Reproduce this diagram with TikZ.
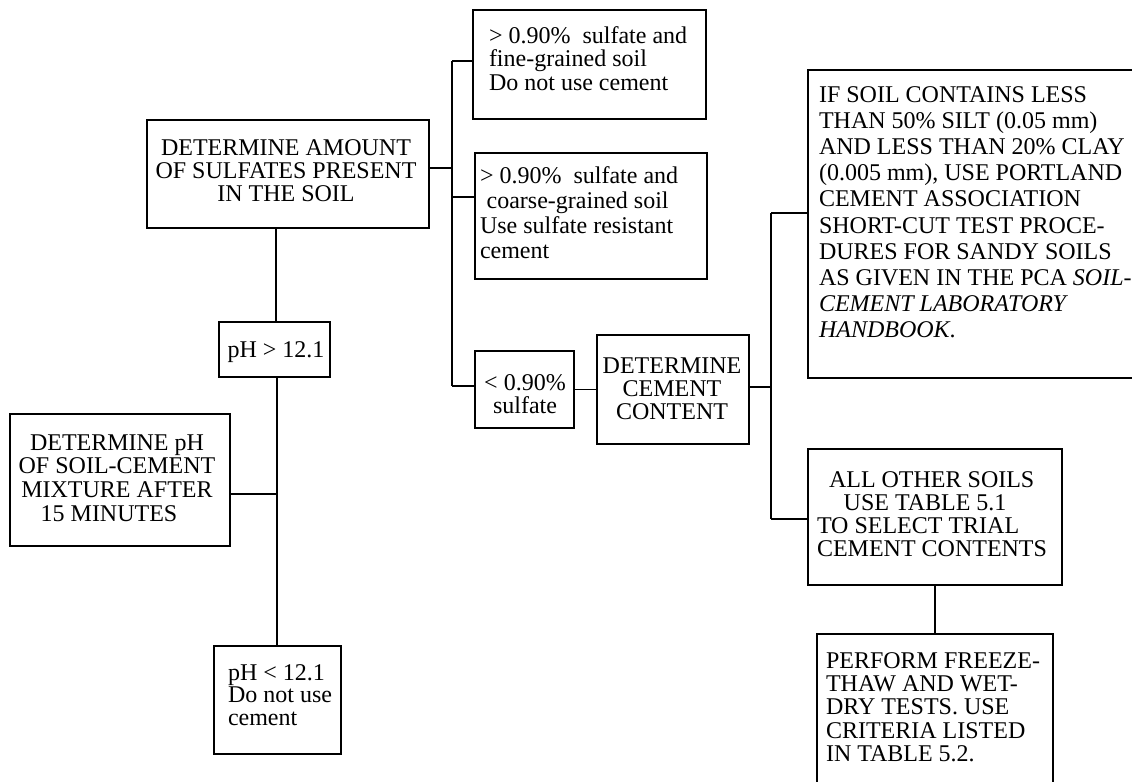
\documentclass[tikz,border=0pt]{standalone}
\usepackage{fontspec}
\setmainfont{Liberation Serif}
\usetikzlibrary{fit}
\newcommand{\txtlines}[3]{{\fontsize{18pt}{#1}\selectfont\begin{tabular}[t]{@{}#2@{}}#3\end{tabular}}}
\begin{document}
\begin{tikzpicture}[x=0.75pt,y=-0.75pt,
  box/.style={draw=black,line width=1.3pt,inner sep=0pt},
  lbl/.style={inner sep=0pt,outer sep=0pt},
  conn/.style={draw=black,line width=1.3pt}]
\clip (0,0) rectangle (1132,782);
\fill[white] (0,0) rectangle (1132,782);
% boxes
\node[box,fit={(147,120) (429,228)}] (amount) {};
\node[box,fit={(219,322) (330,377)}] (phgt) {};
\node[box,fit={(10,414) (230,546)}] (detph) {};
\node[box,fit={(214,646) (341,754)}] (phlt) {};
\node[box,fit={(473,10) (706,119)}] (b1) {};
\node[box,fit={(475,153) (707,279)}] (b2) {};
\node[box,fit={(475,351) (574,428)}] (b3) {};
\node[box,fit={(597,335) (749,444)}] (dcc) {};
\node[box,fit={(808,70) (1160,378)}] (ifsoil) {};
\node[box,fit={(808,449) (1062,585)}] (allother) {};
\node[box,fit={(817,634) (1053,800)}] (perform) {};
% texts
\node[lbl,anchor=base] (tamount) at (286,155) {\txtlines{17.3pt}{c}{DETERMINE AMOUNT\\OF SULFATES PRESENT\\IN THE SOIL}};
\node[lbl,anchor=base] (tphgt) at (276,357) {\txtlines{17pt}{c}{pH > 12.1}};
\node[lbl,anchor=base] (tdetph) at (117,450) {\txtlines{17.8pt}{c}{DETERMINE pH\\OF SOIL-CEMENT\\MIXTURE AFTER\\\hspace*{-12pt}15 MINUTES}};
\node[lbl,anchor=base west] (tphlt) at (228,680) {\txtlines{16.9pt}{l}{pH < 12.1\\Do not use\\cement}};
\node[lbl,anchor=base west] (tb1) at (489,43) {\txtlines{17.6pt}{l}{> 0.90\%\ \ sulfate and\\fine-grained soil\\Do not use cement}};
\node[lbl,anchor=base west] (tb2) at (480,183) {\txtlines{18.8pt}{l}{> 0.90\%\ \ sulfate and\\\hspace*{5pt}coarse-grained soil\\Use sulfate resistant\\cement}};
\node[lbl,anchor=base] (tb3) at (525,390) {\txtlines{16.5pt}{c}{< 0.90\%\\sulfate}};
\node[lbl,anchor=base] (tdcc) at (672,373) {\txtlines{17.3pt}{c}{DETERMINE\\CEMENT\\CONTENT}};
\node[lbl,anchor=base west] (tifsoil) at (819,102) {\txtlines{19.65pt}{l}{IF SOIL CONTAINS LESS\\THAN 50\% SILT (0.05 mm)\\AND LESS THAN 20\% CLAY\\(0.005 mm), USE PORTLAND\\CEMENT ASSOCIATION\\SHORT-CUT TEST PROCE-\\DURES FOR SANDY SOILS\\AS GIVEN IN THE PCA \textit{SOIL-}\\\textit{CEMENT LABORATORY}\\\textit{HANDBOOK}.}};
\node[lbl,anchor=base west] (tallother) at (817,487) {\txtlines{17.3pt}{l}{\hspace*{9pt}ALL OTHER SOILS\\\hspace*{20pt}USE TABLE 5.1\\TO SELECT TRIAL\\CEMENT CONTENTS}};
\node[lbl,anchor=base west] (tperform) at (826,668) {\txtlines{17.6pt}{l}{PERFORM FREEZE-\\THAW AND WET-\\DRY TESTS. USE\\CRITERIA LISTED\\IN TABLE 5.2.}};
% junctions
\coordinate (j1t) at (452,61);
\coordinate (ja) at (452,168);
\coordinate (jb2) at (452,197);
\coordinate (j1b) at (452,386);
\coordinate (j2t) at (771,213);
\coordinate (jd) at (771,387);
\coordinate (j2b) at (771,519);
\coordinate (jv1) at (276,228);
\coordinate (jp) at (277,494);
% connectors
\draw[conn] (amount.south -| jv1) -- (phgt.north -| jv1);
\draw[conn] (phgt.south -| jp) -- (phlt.north -| jp);
\draw[conn] (detph.east |- jp) -- (jp);
\draw[conn] (j1t) -- (j1b);
\draw[conn] (j1t) -- (j1t -| b1.west);
\draw[conn] (amount.east |- ja) -- (ja);
\draw[conn] (jb2) -- (jb2 -| b2.west);
\draw[conn] (j1b) -- (j1b -| b3.west);
\draw[conn] (b3.east) -- (b3.east -| dcc.west);
\draw[conn] (dcc.east |- jd) -- (jd);
\draw[conn] (j2t) -- (j2b);
\draw[conn] (j2t) -- (j2t -| ifsoil.west);
\draw[conn] (j2b) -- (j2b -| allother.west);
\draw[conn] (allother.south) -- (allother.south |- perform.north);
\end{tikzpicture}
\end{document}
